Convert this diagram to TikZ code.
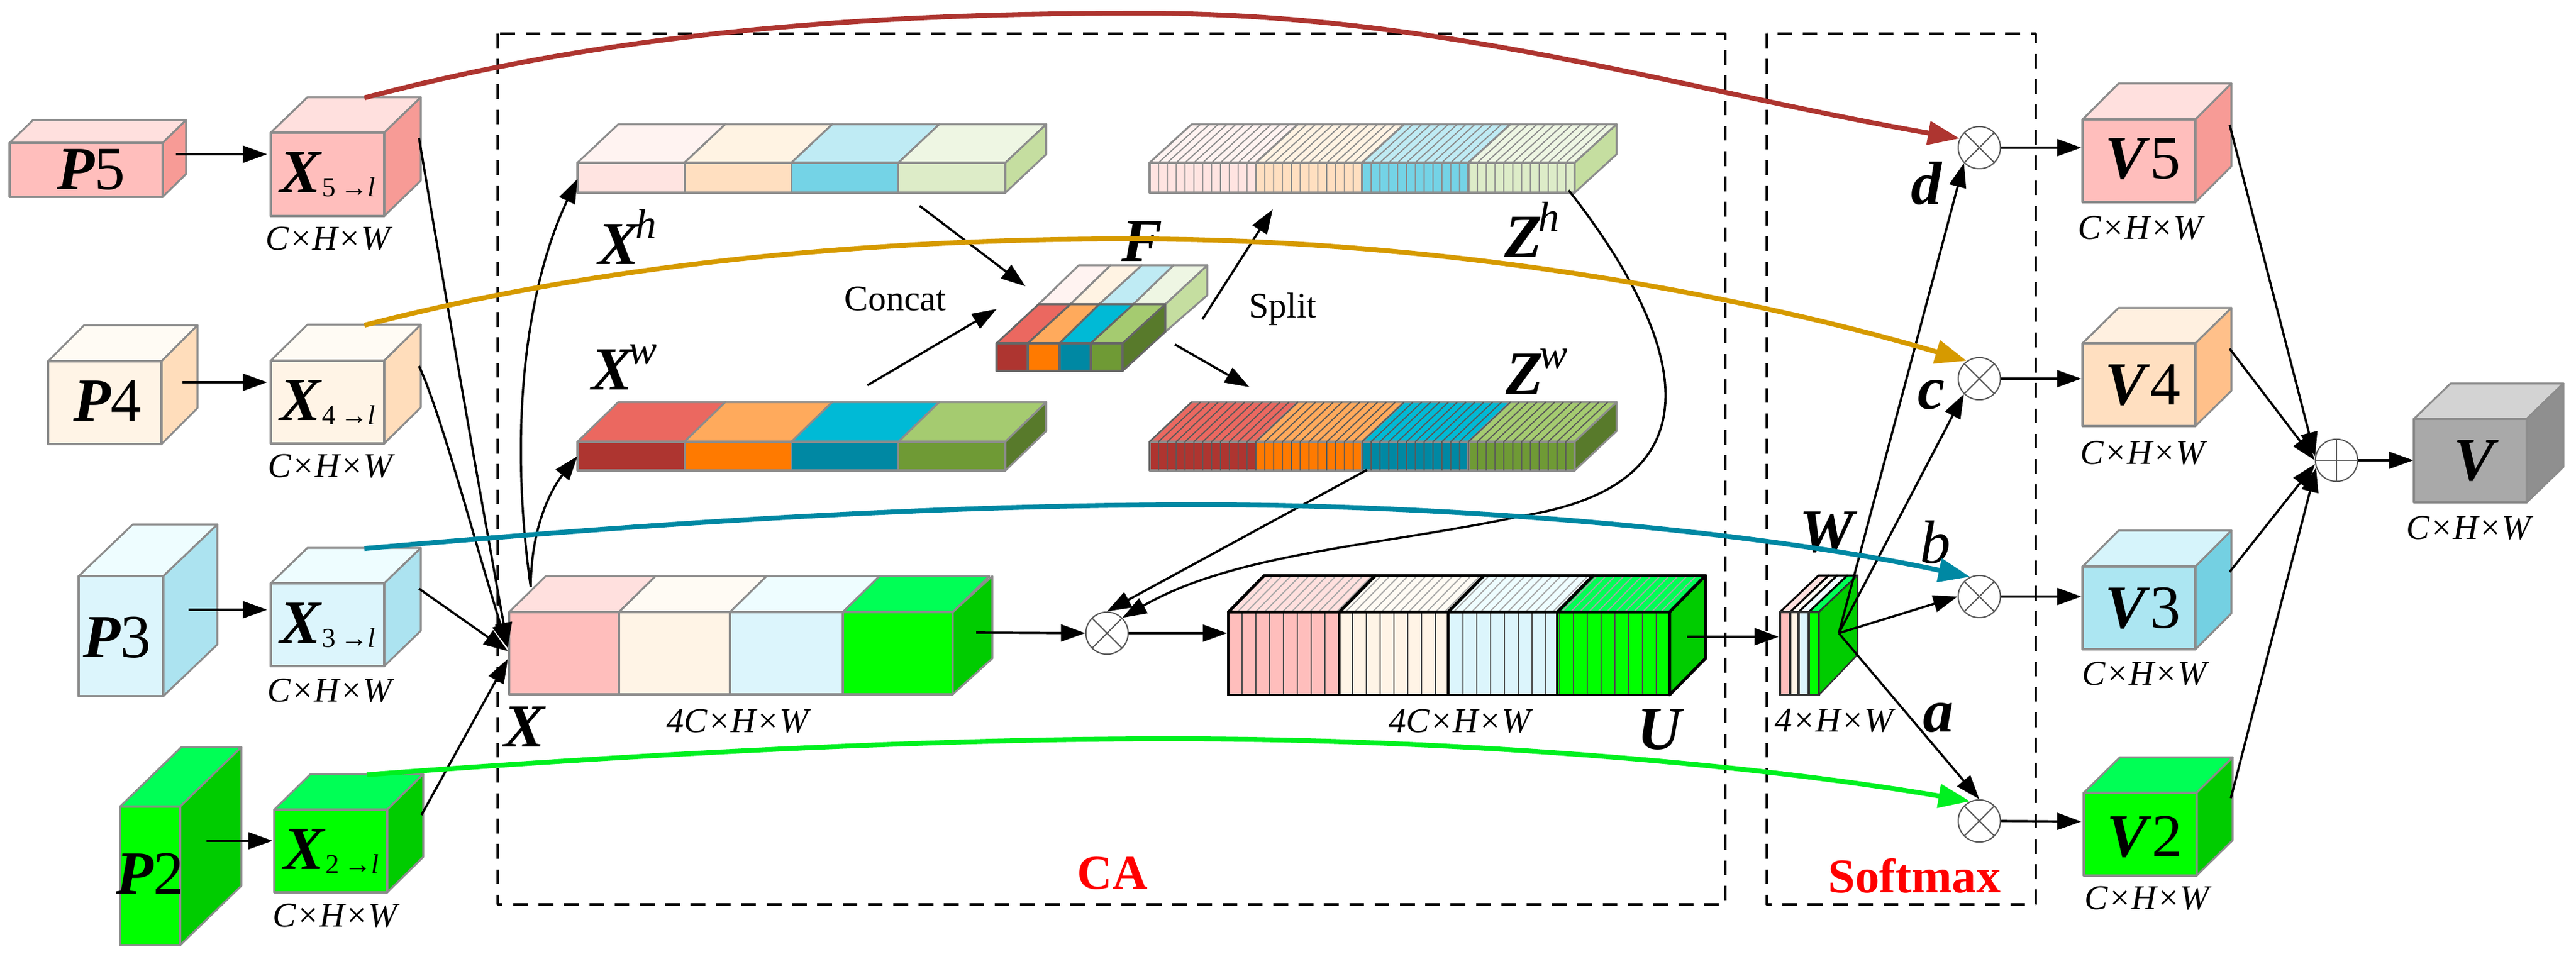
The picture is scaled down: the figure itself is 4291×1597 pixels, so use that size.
\documentclass[tikz,border=0pt]{standalone}
\usepackage{fontspec}
\setmainfont{Liberation Serif}
\usetikzlibrary{arrows.meta}
\usetikzlibrary{calc}

% cube faces: F front, T top, S side
\definecolor{redF}{HTML}{FFBEBC}\definecolor{redT}{HTML}{FFE0DE}\definecolor{redS}{HTML}{F79B96}
\definecolor{crmF}{HTML}{FFF4E6}\definecolor{crmT}{HTML}{FFFBF4}\definecolor{crmS}{HTML}{FFDDBB}
\definecolor{orgF}{HTML}{FFDFC0}\definecolor{orgT}{HTML}{FFF0E0}\definecolor{orgS}{HTML}{FFC08A}
\definecolor{bluF}{HTML}{DCF5FC}\definecolor{bluT}{HTML}{EEFDFF}\definecolor{bluS}{HTML}{ACE3F0}
\definecolor{cyaF}{HTML}{ACE6F2}\definecolor{cyaT}{HTML}{D6F4FB}\definecolor{cyaS}{HTML}{74D0E2}
\definecolor{grnF}{HTML}{00FF00}\definecolor{grnT}{HTML}{00FF55}\definecolor{grnS}{HTML}{00CC00}
\definecolor{gryF}{HTML}{A9A9A9}\definecolor{gryT}{HTML}{D3D3D3}\definecolor{gryS}{HTML}{8F8F8F}
% strips
\definecolor{hFa}{HTML}{FFE4E1}\definecolor{hFb}{HTML}{FFDFC0}\definecolor{hFc}{HTML}{74D3E6}\definecolor{hFd}{HTML}{DDECC8}
\definecolor{hTa}{HTML}{FFF3F1}\definecolor{hTb}{HTML}{FFF3E3}\definecolor{hTc}{HTML}{BFEBF4}\definecolor{hTd}{HTML}{EEF6E3}
\definecolor{wFa}{HTML}{AE3530}\definecolor{wFb}{HTML}{FF7A00}\definecolor{wFc}{HTML}{0088A3}\definecolor{wFd}{HTML}{6F9A35}
\definecolor{wTa}{HTML}{EB6860}\definecolor{wTb}{HTML}{FFAA5C}\definecolor{wTc}{HTML}{00BAD6}\definecolor{wTd}{HTML}{A5CB70}
\definecolor{hSide}{HTML}{C5DEA0}\definecolor{wSide}{HTML}{587A2B}
% curves
\definecolor{cvRed}{HTML}{AE3530}\definecolor{cvGold}{HTML}{D69A00}\definecolor{cvTeal}{HTML}{0088A3}\definecolor{cvGreen}{HTML}{00F020}

\tikzset{
  edge/.style={draw=black!45,line width=0.9pt},
  arr/.style={->,line width=1.05pt},
  thick arr/.style={line width=2.3pt,-{Triangle[length=15pt,width=11pt]}},
  big/.style={font=\fontsize{29}{31}\selectfont,inner sep=0pt},
  dims/.style={font=\fontsize{16.5}{19}\selectfont\itshape,inner sep=0pt},
  plain/.style={font=\fontsize{17}{19}\selectfont,inner sep=0pt},
  redlab/.style={font=\fontsize{23}{25}\selectfont\bfseries,text=red,inner sep=0pt},
  region/.style={draw=black,line width=1pt,dash pattern=on 7pt off 5pt},
  op/.style={circle,draw=black!65,fill=white,line width=0.6pt,minimum size=20pt,inner sep=0pt},
  mult/.style={op,path picture={
    \draw[black!65,line width=0.6pt] (path picture bounding box.north west)--(path picture bounding box.south east)
      (path picture bounding box.north east)--(path picture bounding box.south west);}},
  add/.style={op,path picture={
    \draw[black!65,line width=0.6pt] (path picture bounding box.north)--(path picture bounding box.south)
      (path picture bounding box.east)--(path picture bounding box.west);}},
}

% name, x, y, w, h, dx, dy, colour set
\newcommand{\cube}[8]{
  \draw[edge,fill=#8T] (#2,#3) -- ++(#6,-#7) -- ++(#4,0) -- ++(-#6,#7) -- cycle;
  \draw[edge,fill=#8S] ({#2+#4},#3) -- ++(#6,-#7) -- ++(0,#5) -- ++(-#6,#7) -- cycle;
  \draw[edge,fill=#8F] (#2,#3) rectangle ++(#4,#5);
  \coordinate (#1out) at ({#2+#4+#6-3},{#3+9});
  \coordinate (#1top) at ({#2+#4+#6-94},{#3-#7+1});
}
% x0, step, ytop, ybot, dx, dy, colour letter, side colour
\newcommand{\slab}[8]{
  \foreach \k [count=\i from 0] in {a,b,c,d}{
    \draw[edge,fill=#7T\k] ({#1+\i*#2},#3) -- ++(#5,-#6) -- ++(#2,0) -- ++(-#5,#6) -- cycle;
    \draw[edge,fill=#7F\k] ({#1+\i*#2},#3) rectangle ({#1+\i*#2+#2},#4);
  }
  \draw[edge,fill=#8] ({#1+4*#2},#3) -- ++(#5,-#6) -- ++(0,{#4-#3}) -- ++(-#5,#6) -- cycle;
}
% x0, x1, step, ytop, ybot, dx, dy, colour
\newcommand{\ribs}[8]{
  \pgfmathsetmacro{\ribnext}{#1+#3}
  \foreach \s in {#1,\ribnext,...,#2}{
    \draw[#8,line width=0.55pt] (\s,#5) -- (\s,#4) -- ++(#6,-#7);
  }
}
% same, front face only or top face only
\newcommand{\frontribs}[6]{
  \pgfmathsetmacro{\ribnext}{#1+#3}
  \foreach \s in {#1,\ribnext,...,#2}{\draw[#6,line width=0.55pt] (\s,#4) -- (\s,#5);}
}
\newcommand{\topribs}[7]{
  \pgfmathsetmacro{\ribnext}{#1+#3}
  \foreach \s in {#1,\ribnext,...,#2}{\draw[#7,line width=0.55pt] (\s,#4) -- ++(#5,-#6);}
}

\begin{document}
\begin{tikzpicture}[x=0.01cm,y=-0.01cm,line cap=butt,line join=round,>={Triangle[length=11.5pt,width=8pt]}]
  \useasboundingbox (0,0) rectangle (4291,1597);

  % regions
  \draw[region] (829,56) rectangle (2874,1507);
  \draw[region] (2943,56) rectangle (3391,1507);
  \node[redlab] (caLab) at (1853,1455) {CA};
  \node[redlab] (softLab) at (3189,1459) {Softmax};

  % inputs
  \cube{PV}{16}{238}{255}{90}{39}{38}{red}
  \cube{XV}{451}{221}{189}{139}{61}{59}{red}
  \cube{PIV}{80}{602}{189}{138}{60}{60}{crm}
  \cube{XIV}{451}{601}{189}{138}{61}{60}{crm}
  \cube{PIII}{131}{960}{141}{200}{90}{86}{blu}
  \cube{XIII}{451}{972}{189}{138}{61}{59}{blu}
  \cube{PII}{200}{1344}{100}{231}{102}{99}{grn}
  \cube{XII}{457}{1349}{188}{138}{60}{59}{grn}

  \node[big] (tPV) at (152,283) {\textbf{\textit{P}}5};
  \node[big] (tPIV) at (179,668) {\textbf{\textit{P}}4};
  \node[big] (tPIII) at (195,1062) {\textbf{\textit{P}}3};
  \node[big] (tPII) at (250,1456) {\textbf{\textit{P}}2};
  \foreach \n/\d/\x/\y in {XV/5/546/291,XIV/4/546/671,XIII/3/546/1042,XII/2/552/1419}{
    \node[big] (t\n) at (\x,\y) {\textbf{\textit{X}}{\fontsize{13}{14}\selectfont\raisebox{-2pt}{\d\,→\textit{l}}}};
  }
  \foreach \n/\x/\y in {PV/546/398,PIV/550/777,PIII/549/1151,PII/558/1526,VV/3565/380,VIV/3569/755,VIII/3572/1123,VII/3576/1497,VT/4112/880}{
    \node[dims] (d\n) at (\x,\y) {C×H×W};
  }

  % split strips
  \slab{962}{178.2}{271}{321}{68}{64}{h}{hSide}
  \slab{962}{178.2}{736}{784}{68}{66}{w}{wSide}
  \slab{1915}{177}{271}{321}{70}{64}{h}{hSide}
  \slab{1915}{177}{736}{784}{70}{66}{w}{wSide}
  \ribs{1915}{2622}{14.75}{271}{321}{70}{64}{black!45}
  \ribs{1915}{2622}{14.75}{736}{784}{70}{66}{black!65}
  \node[big] (tXh) at (1045,395) {\textbf{\textit{X}}\raisebox{.42em}{\fontsize{20}{20}\selectfont\kern-.12em\textit{h}}};
  \node[big] (tXw) at (1040,612) {\textbf{\textit{X}}\raisebox{.42em}{\fontsize{20}{20}\selectfont\kern-.12em\textit{w}}};
  \node[big] (tZh) at (2552,383) {\textbf{\textit{Z}}\raisebox{.42em}{\fontsize{20}{20}\selectfont\kern-.1em\textit{h}}};
  \node[big] (tZw) at (2560,619) {\textbf{\textit{Z}}\raisebox{.42em}{\fontsize{20}{20}\selectfont\kern-.1em\textit{w}}};

  % F block
  \draw[edge,fill=hSide] (1941,507) -- (2011,442) -- (2011,492) -- (1941,553) -- cycle;
  \foreach \a/\b/\c/\d/\k in {1730/1783/1850/1797/a,1783/1831/1902/1850/b,1831/1888/1955/1902/c,1888/1941/2011/1955/d}{
    \draw[edge,fill=hT\k] (\a,507) -- (\b,507) -- (\c,442) -- (\d,442) -- cycle;
  }
  \foreach \a/\b/\c/\d/\k in {1660/1712/1783/1730/a,1712/1765/1831/1783/b,1765/1817/1888/1831/c,1817/1870/1941/1888/d}{
    \draw[draw=black!60,line width=0.9pt,fill=wT\k] (\a,572) -- (\b,572) -- (\c,507) -- (\d,507) -- cycle;
    \draw[draw=black!60,line width=0.9pt,fill=wF\k] (\a,572) rectangle (\b,618);
  }
  \draw[draw=black!60,line width=0.9pt,fill=wSide] (1870,572) -- (1941,507) -- (1941,553) -- (1870,618) -- cycle;
  \node[big] (tF) at (1902,402) {\textbf{\textit{F}}};
  \node[plain] (tConcat) at (1491,498) {Concat};
  \node[plain] (tSplit) at (2137,515) {Split};

  % X stack
  \foreach \a/\b/\c in {848/1031/red,1031/1216/crm,1216/1404/blu,1404/1587/grn}{
    \draw[edge,fill=\c T] (\a,1020) -- ++(61,-60) -- ({\b+61},960) -- (\b,1020) -- cycle;
    \draw[edge,fill=\c F] (\a,1020) rectangle (\b,1157);
  }
  \draw[edge,fill=grnS] (1587,1020) -- ++(66,-60) -- ++(0,137) -- ++(-66,60) -- cycle;
  \node[big] (tX) at (875,1211) {\textbf{\textit{X}}};
  \node[dims] (dX) at (1229,1202) {4C×H×W};

  % U stack
  \foreach \a/\b/\c in {2046/2231/red,2231/2412/crm,2412/2594/blu,2594/2781/grn}{
    \fill[\c T] (\a,1020) -- ++(60,-61) -- ({\b+60},959) -- (\b,1020) -- cycle;
    \fill[\c F] (\a,1020) rectangle (\b,1158);
  }
  \frontribs{2046}{2781}{23}{1020}{1158}{black!70}
  \topribs{2046}{2781}{15}{1020}{60}{61}{black!35}
  \foreach \a/\b in {2046/2231,2231/2412,2412/2594,2594/2781}{
    \draw[black,line width=1.4pt] (\a,1020) -- ++(60,-61) -- ({\b+60},959) -- (\b,1020) -- cycle;
    \draw[black,line width=1.4pt] (\a,1020) rectangle (\b,1158);
  }
  \draw[draw=black,line width=1.4pt,fill=grnS] (2781,1020) -- ++(60,-61) -- ++(0,138) -- ++(-60,61) -- cycle;
  \node[dims] (dU) at (2432,1202) {4C×H×W};
  \node[big] (tU) at (2766,1216) {\textbf{\textit{U}}};

  % W stack
  \foreach \a/\b/\c in {2965/2982/red,2982/2996/crm,2996/3013/blu,3013/3030/grn}{
    \draw[draw=black,line width=0.9pt,fill=\c T] (\a,1020) -- ++(64,-61) -- ({\b+64},959) -- (\b,1020) -- cycle;
    \draw[draw=black!80,line width=0.9pt,fill=\c F] (\a,1020) rectangle (\b,1158);
  }
  \draw[draw=black!80,line width=0.7pt,fill=grnS] (3030,1020) -- (3094,959) -- (3094,1091) -- (3030,1158) -- cycle;
  \node[big] (tW) at (3046,887) {\textbf{\textit{W}}};
  \node[dims] (dW) at (3055,1201) {4×H×W};

  % operators
  \node[mult] (mU) at (1844,1055) {};
  \node[mult] (mD) at (3297,246) {};
  \node[mult] (mC) at (3297,631) {};
  \node[mult] (mB) at (3297,994) {};
  \node[mult] (mA) at (3297,1368) {};
  \node[add] (sum) at (3892,767) {};

  % outputs
  \cube{VV}{3469}{199}{188}{138}{60}{60}{red}
  \cube{VIV}{3469}{572}{188}{138}{60}{59}{org}
  \cube{VIII}{3469}{944}{188}{138}{60}{60}{cya}
  \cube{VII}{3471}{1321}{188}{138}{60}{59}{grn}
  \cube{VT}{4021}{698}{188}{139}{61}{59}{gry}
  \node[big] (tVV) at (3569,265) {\textbf{\textit{V}}5};
  \node[big] (tVIV) at (3569,642) {\textbf{\textit{V}}4};
  \node[big] (tVIII) at (3569,1013) {\textbf{\textit{V}}3};
  \node[big] (tVII) at (3572,1394) {\textbf{\textit{V}}2};
  \node[big] (tVT) at (4125,768) {\textbf{\textit{V}}};

  \node[big] (ld) at (3210,306) {\textbf{\textit{d}}};
  \node[big] (lc) at (3217,658) {\textbf{\textit{c}}};
  \node[big] (lb) at (3224,904) {\textit{b}};
  \node[big] (la) at (3229,1196) {\textbf{\textit{a}}};

  % connector ends
  \foreach \n/\x/\y in {pvS/293/257,xvT/445/257,pivS/304/637,xivT/445/637,piiiS/314/1016,xiiiT/445/1016,piiS/344/1401,xiiT/454/1401,
      tipV/846/1078,tipIV/846/1080,tipIII/846/1085,tipII/846/1098,xRoot/884/978,xhTip/962/298,xwTip/962/760,
      xOut/1626/1054,xhOut/1532/343,fInH/1708/477,xwOut/1445/642,fInW/1660/515,fOutH/2003/532,zhIn/2120/349,fOutW/1957/574,zwIn/2081/645,
      zwOut/2277/783,zhOut/2613/317,uIn/2044/1055,uOut/2810/1061,wIn/2963/1061,wRoot/3063/1055}{
    \coordinate (\n) at (\x,\y);
  }

  % feature paths
  \draw[arr] (pvS) -- (xvT);
  \draw[arr] (pivS) -- (xivT);
  \draw[arr] (piiiS) -- (xiiiT);
  \draw[arr] (piiS) -- (xiiT);
  \draw[arr] (XVout) .. controls (745,510) and (795,796) .. (tipV);
  \draw[arr] (XIVout) .. controls (735,690) and (790,900) .. (tipIV);
  \draw[arr] (XIIIout) -- (tipIII);
  \draw[arr] (XIIout) -- (tipII);
  \draw[arr] (xRoot) .. controls (845,700) and (880,470) .. (xhTip);
  \draw[arr] (xRoot) .. controls (885,860) and (930,800) .. (xwTip);
  \draw[arr] (xhOut) -- (fInH);
  \draw[arr] (xwOut) -- (fInW);
  \draw[arr] (fOutH) -- (zhIn);
  \draw[arr] (fOutW) -- (zwIn);
  \draw[arr] (xOut) -- (mU.west);
  \draw[arr] (zwOut) -- (mU.north);
  \draw[arr] (zhOut) .. controls (2780,530) and (2900,800) .. (2539,859) .. controls (2300,910) and (2060,920) .. (mU.north east);
  \draw[arr] (mU.east) -- (uIn);
  \draw[arr] (uOut) -- (wIn);
  \draw[arr] (wRoot) -- (mD.south west);
  \draw[arr] (wRoot) -- (mC.south west);
  \draw[arr] (wRoot) -- (mB.west);
  \draw[arr] (wRoot) -- (mA.north);
  \foreach \m/\v/\yy in {mD/VV/246,mC/VIV/631,mB/VIII/994,mA/VII/1369}{
    \coordinate (\v in) at (3467,\yy);
    \draw[arr] (\m.east) -- (\v in);
  }
  \draw[arr] (VVout) -- (sum.170);
  \draw[arr] (VIVout) -- (sum.180);
  \draw[arr] (VIIIout) -- (sum.190);
  \draw[arr] (VIIout) -- (sum.200);
  \coordinate (vtIn) at (4020,767);
  \draw[arr] (sum.east) -- (vtIn);

  % skip paths
  \draw[thick arr,cvRed] (XVtop) .. controls (1000,60) and (1400,22) .. (1900,22) .. controls (2400,22) and (2800,150) .. (mD.155);
  \draw[thick arr,cvGold] (XIVtop) .. controls (1000,440) and (1450,398) .. (1880,398) .. controls (2400,398) and (2900,490) .. (mC.125);
  \draw[thick arr,cvTeal] (XIIItop) .. controls (1000,880) and (1500,841) .. (2000,841) .. controls (2400,841) and (2900,880) .. (mB.115);
  \draw[thick arr,cvGreen] (XIItop) .. controls (1000,1262) and (1500,1231) .. (1950,1231) .. controls (2400,1231) and (2900,1270) .. (mA.115);
\end{tikzpicture}
\end{document}
